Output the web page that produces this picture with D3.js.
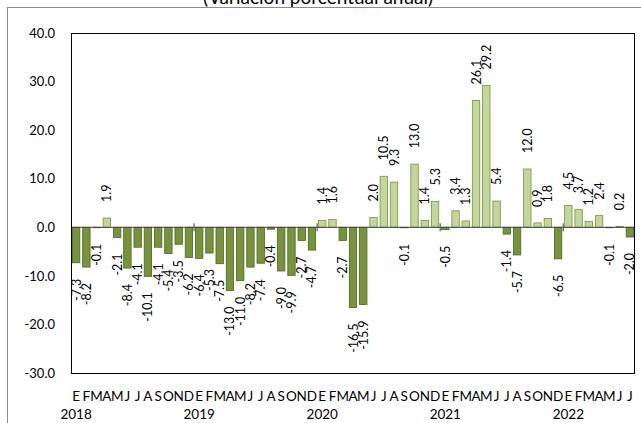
<!DOCTYPE html>
<html>
<head>
<meta charset="utf-8">
<script src="https://cdn.jsdelivr.net/npm/d3@7"></script>
<style>
  html, body { margin: 0; padding: 0; background: #fff; overflow: hidden; }
  svg { display: block; font-family: Lato, "Open Sans", sans-serif; }
</style>
</head>
<body>
<svg id="chart" width="641" height="423"></svg>
<script>
const title = "(Variación porcentual anual)";
const years = ["2018", "2019", "2020", "2021", "2022"];
const monthLetters = ["E", "F", "M", "A", "M", "J", "J", "A", "S", "O", "N", "D"];
const values = [
  -7.3, -8.2, -0.1, 1.9, -2.1, -8.4, -4.1, -10.1, -4.1, -5.4, -3.5, -6.2,
  -6.4, -5.3, -7.5, -13.0, -11.0, -8.2, -7.4, -0.4, -9.0, -9.9, -2.7, -4.7,
  1.4, 1.6, -2.7, -16.5, -15.9, 2.0, 10.5, 9.3, -0.1, 13.0, 1.4, 5.3,
  -0.5, 3.4, 1.3, 26.1, 29.2, 5.4, -1.4, -5.7, 12.0, 0.9, 1.8, -6.5,
  4.5, 3.7, 1.2, 2.4, -0.1, 0.2, -2.0
];
const yTicks = [-30, -20, -10, 0, 10, 20, 30, 40];

const data = values.map((v, i) => ({
  i, v,
  month: monthLetters[i % 12],
  year: years[Math.floor(i / 12)]
}));

const svg = d3.select("#chart");
const plot = { left: 71, right: 635, top: 33, bottom: 373 };

// outer frame (extends past the window edge)
svg.append("rect")
  .attr("x", 7.5).attr("y", 7.5)
  .attr("width", 800).attr("height", 600)
  .attr("fill", "none").attr("stroke", "#8c8c8c").attr("stroke-width", 1);

// title (partially clipped at the top, as in the source)
svg.append("text")
  .attr("x", 318).attr("y", 4)
  .attr("text-anchor", "middle")
  .attr("font-size", 19).attr("fill", "#000")
  .text(title);

const x = d3.scaleBand()
  .domain(data.map(d => d.i))
  .range([plot.left, plot.right])
  .paddingInner(0).paddingOuter(0);

const y = d3.scaleLinear()
  .domain([d3.min(yTicks), d3.max(yTicks)])
  .range([plot.bottom, plot.top]);

const step = x.step();
const barW = step * 0.72;
const barOff = (step - barW) / 2;

// bars
svg.append("g").selectAll("rect")
  .data(data).join("rect")
  .attr("x", d => x(d.i) + barOff)
  .attr("width", barW)
  .attr("y", d => y(Math.max(0, d.v)))
  .attr("height", d => Math.abs(y(d.v) - y(0)))
  .attr("fill", d => d.v >= 0 ? "#c3d69b" : "#77933c")
  .attr("stroke", d => d.v >= 0 ? "#77933c" : "#4f6228")
  .attr("stroke-width", 0.8);

// zero line
svg.append("line")
  .attr("x1", plot.left).attr("x2", plot.right)
  .attr("y1", y(0)).attr("y2", y(0))
  .attr("stroke", "#404040").attr("stroke-width", 1);

// year boundary ticks on zero line
const boundaries = data.filter(d => d.i > 0 && d.i % 12 === 0);
svg.append("g").selectAll("line")
  .data(boundaries).join("line")
  .attr("x1", d => x(d.i)).attr("x2", d => x(d.i))
  .attr("y1", y(0) - 4).attr("y2", y(0) + 4)
  .attr("stroke", "#404040").attr("stroke-width", 1);

// plot border
svg.append("rect")
  .attr("x", plot.left + 0.5).attr("y", plot.top + 0.5)
  .attr("width", plot.right - plot.left - 1).attr("height", plot.bottom - plot.top)
  .attr("fill", "none").attr("stroke", "#000").attr("stroke-width", 1);

// y axis labels
const yAxis = d3.axisLeft(y)
  .tickValues(yTicks)
  .tickSize(0)
  .tickPadding(16)
  .tickFormat(d => d.toFixed(1));
const gy = svg.append("g")
  .attr("transform", `translate(${plot.left},0)`)
  .call(yAxis);
gy.select(".domain").remove();
gy.selectAll("text")
  .attr("font-family", "Lato, 'Open Sans', sans-serif")
  .attr("font-size", 13).attr("fill", "#000");

// x axis month letters
const xAxis = d3.axisBottom(x)
  .tickSize(0)
  .tickPadding(18)
  .tickFormat(i => data[i].month);
const gx = svg.append("g")
  .attr("transform", `translate(0,${plot.bottom})`)
  .call(xAxis);
gx.select(".domain").remove();
gx.selectAll("text")
  .attr("font-family", "Lato, 'Open Sans', sans-serif")
  .attr("font-size", 13.5).attr("fill", "#000");

// year labels under January
const firsts = data.filter(d => d.i % 12 === 0);
svg.append("g").selectAll("text")
  .data(firsts).join("text")
  .attr("x", d => x(d.i) + step / 2)
  .attr("y", plot.bottom + 46)
  .attr("text-anchor", "middle")
  .attr("font-size", 13.5).attr("fill", "#000")
  .text(d => d.year);

// value labels (rotated)
const gap = 16;
svg.append("g").selectAll("text")
  .data(data).join("text")
  .attr("transform", d => {
    const cx = x(d.i) + step / 2;
    const cy = d.v >= 0 ? y(d.v) - gap : y(d.v) + gap;
    return `translate(${cx},${cy}) rotate(-90)`;
  })
  .attr("text-anchor", d => d.v >= 0 ? "start" : "end")
  .attr("dominant-baseline", "central")
  .attr("font-size", 12.5).attr("fill", "#000")
  .text(d => d.v.toFixed(1));
</script>
</body>
</html>
